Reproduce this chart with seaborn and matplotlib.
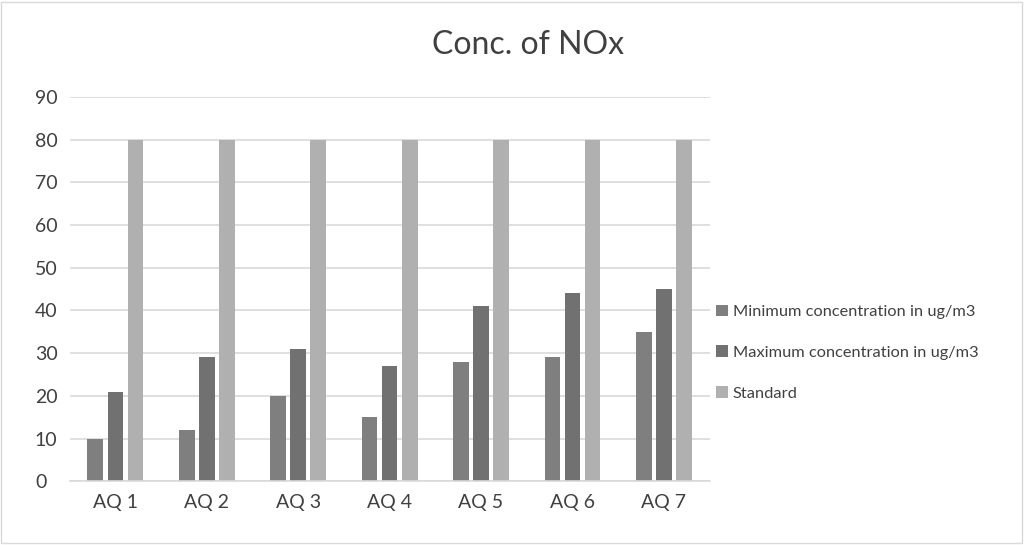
import matplotlib
matplotlib.use("Agg")
import matplotlib.pyplot as plt
import seaborn as sns
import pandas as pd
from matplotlib.patches import Patch, Rectangle

categories = ["AQ 1", "AQ 2", "AQ 3", "AQ 4", "AQ 5", "AQ 6", "AQ 7"]
min_conc = [10, 12, 20, 15, 28, 29, 35]
max_conc = [21, 29, 31, 27, 41, 44, 45]
standard = [80, 80, 80, 80, 80, 80, 80]
series_names = ["Minimum concentration in ug/m3", "Maximum concentration in ug/m3", "Standard"]
colors = ["#7f7f7f", "#717171", "#b0b0b0"]

rows = []
for name, vals in zip(series_names, [min_conc, max_conc, standard]):
    for c, v in zip(categories, vals):
        rows.append({"cat": c, "series": name, "value": v})
df = pd.DataFrame(rows)

sns.set_theme(style="white")
plt.rcParams['font.family'] = ['Lato', 'DejaVu Sans']

fig = plt.figure(figsize=(10.24, 5.45), dpi=100)
ax = fig.add_axes([0.068, 0.117, 0.625, 0.705])
sns.barplot(data=df, x="cat", y="value", hue="series", palette=colors,
            width=0.66, gap=0.22, ax=ax, legend=False, saturation=1, linewidth=0)

ax.set_ylim(0, 90)
ax.set_yticks(range(0, 91, 10))
ax.yaxis.grid(True, color="#d9d9d9", linewidth=1.2)
ax.set_axisbelow(True)
for s in ["top", "right", "left"]:
    ax.spines[s].set_visible(False)
ax.spines["bottom"].set_color("#d9d9d9")
ax.spines["bottom"].set_linewidth(1.2)
ax.set_xlabel("")
ax.set_ylabel("")
ax.tick_params(axis="both", length=0, labelsize=14, colors="#404040")
ax.tick_params(axis="x", pad=9)
for lab in ax.get_yticklabels():
    lab.set_horizontalalignment("left")
ax.tick_params(axis="y", pad=25)

fig.text(0.516, 0.917, "Conc. of NOx", ha="center", va="center", fontsize=23, color="#404040")

handles = [Patch(facecolor=c, edgecolor="none") for c in colors]
fig.legend(handles, series_names, loc="center left", bbox_to_anchor=(0.685, 0.353),
           frameon=False, fontsize=11.8, labelcolor="#404040", handlelength=0.7,
           handleheight=0.7, handletextpad=0.3, labelspacing=1.6)

fig.patches.append(Rectangle((0.001, 0.003), 0.997, 0.994, transform=fig.transFigure,
                             fill=False, edgecolor="#d9d9d9", linewidth=1))
fig.savefig("out.png", dpi=100)
